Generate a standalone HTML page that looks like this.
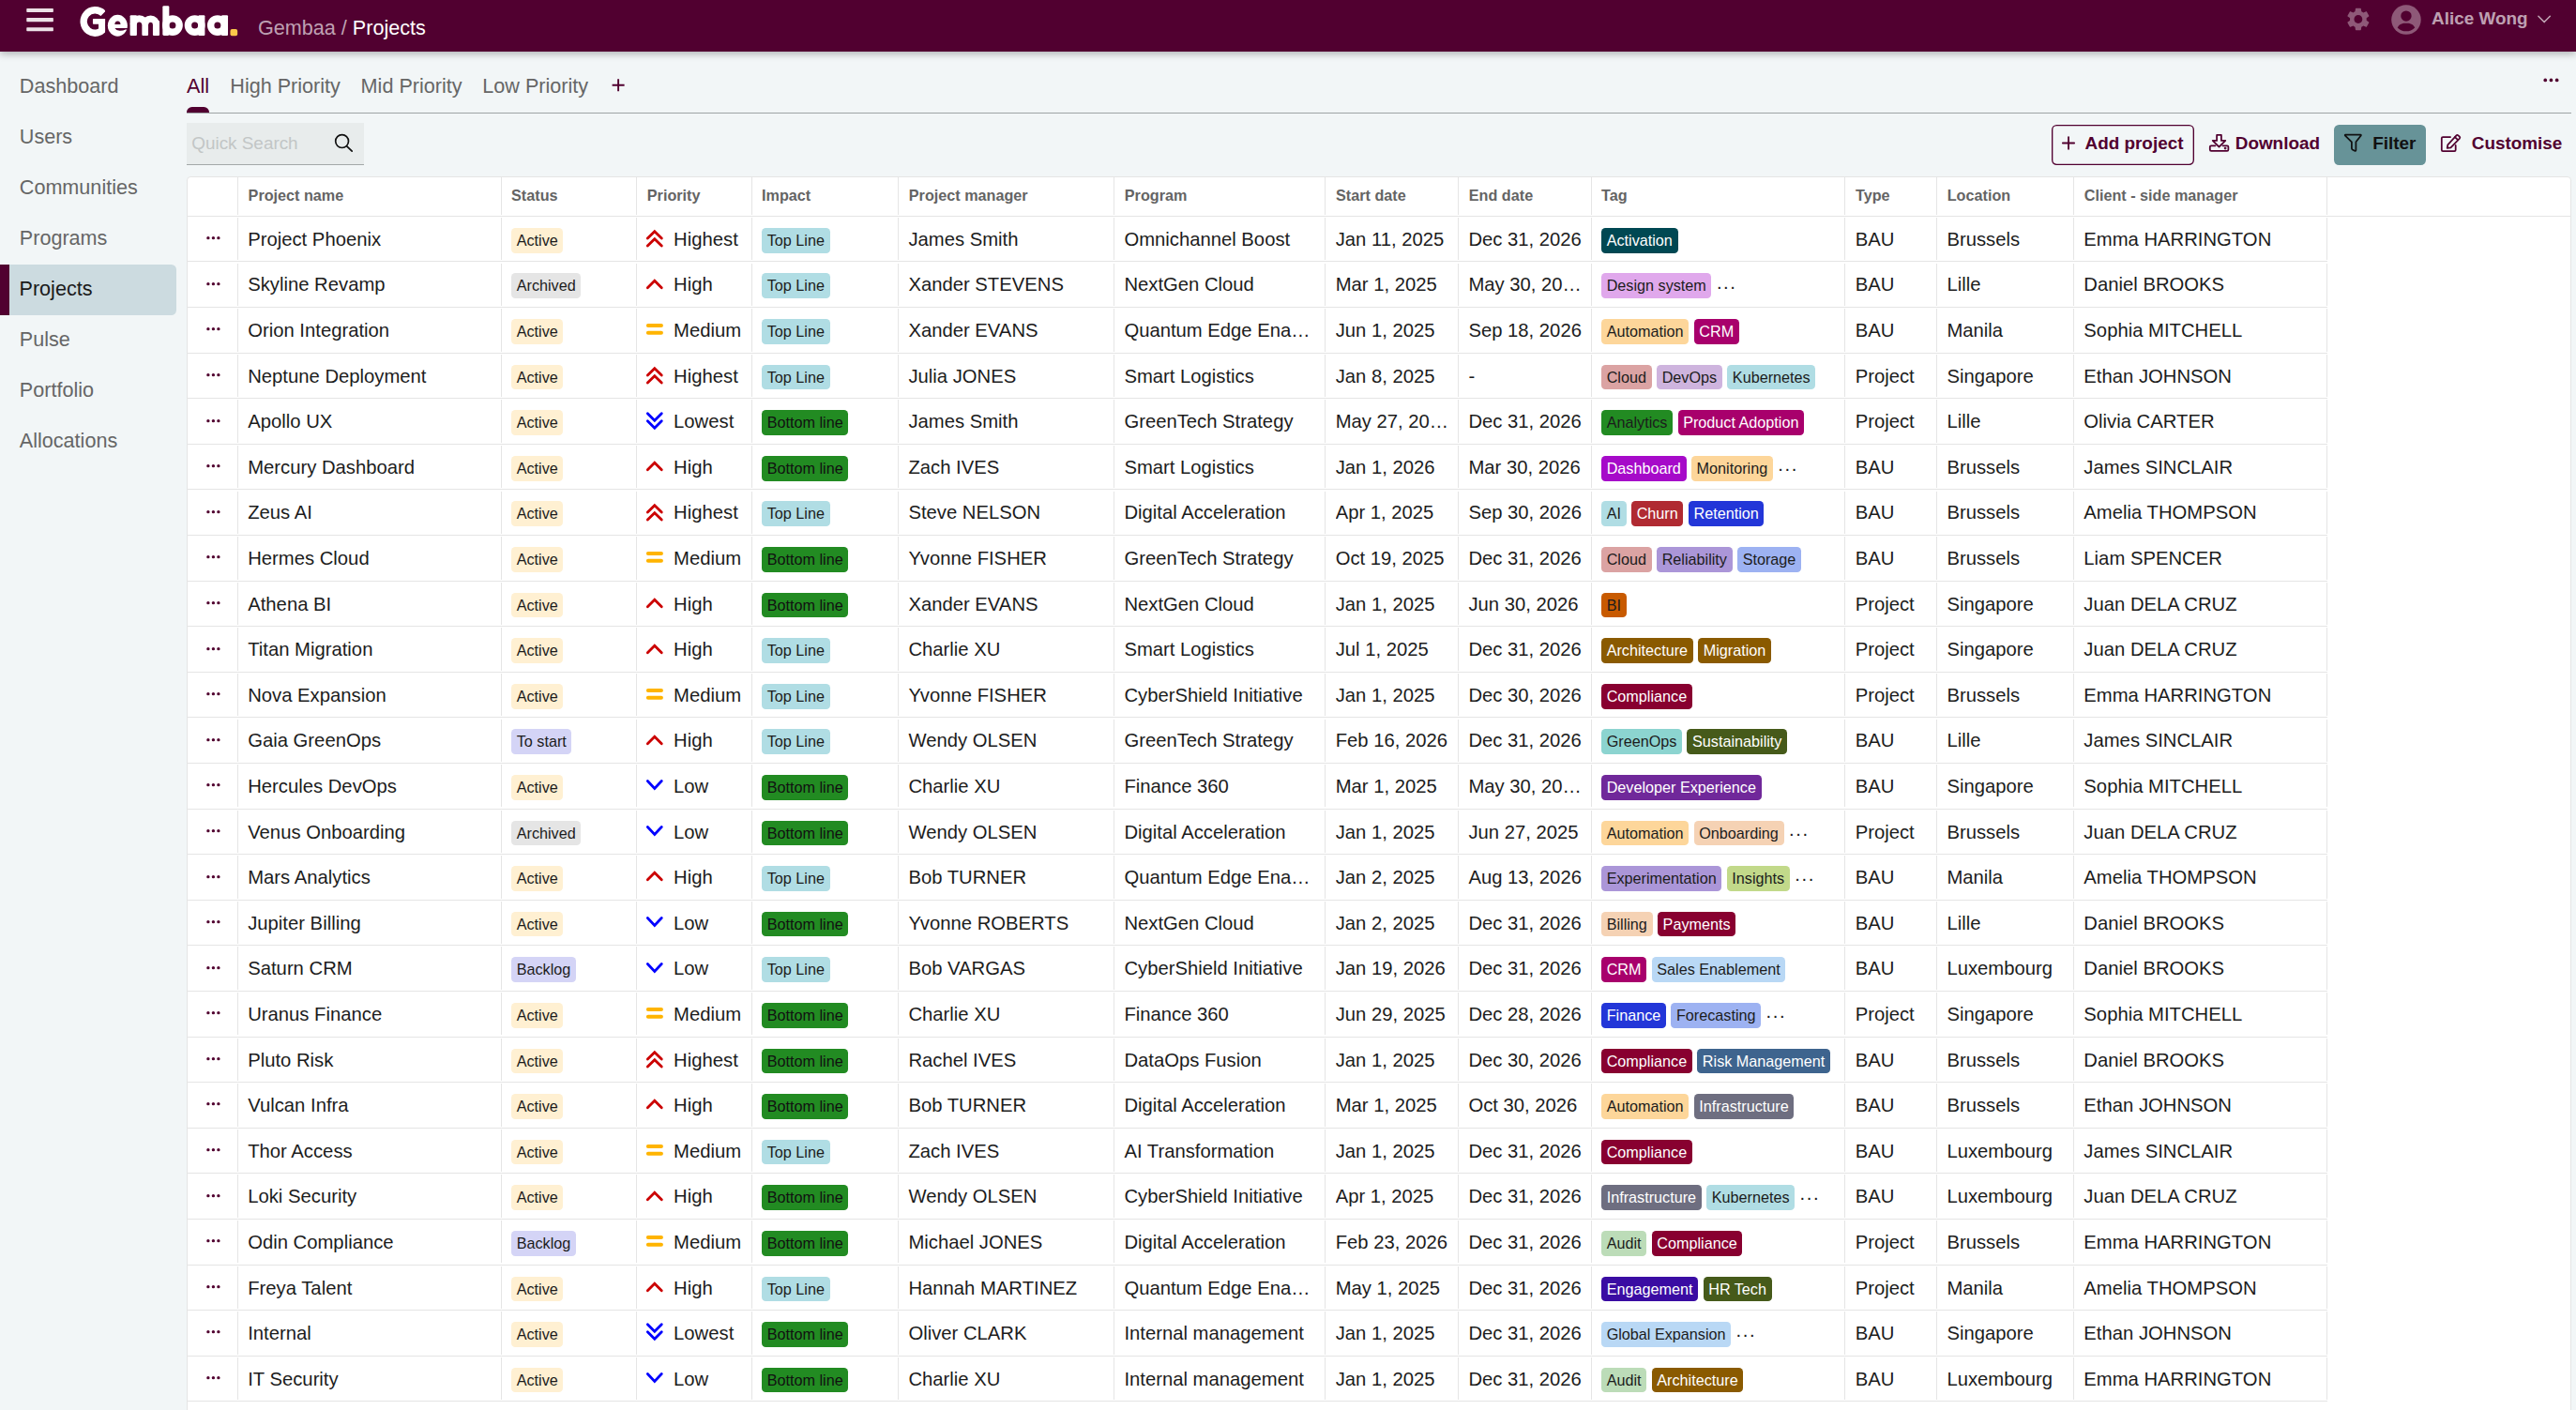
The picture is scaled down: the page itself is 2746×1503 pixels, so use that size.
<!DOCTYPE html>
<html lang="en"><head><meta charset="utf-8"><title>Gembaa / Projects</title>
<style>
html,body{margin:0;padding:0}
html{background:#f2f6f7;overflow:hidden}
body{zoom:1.35;font-family:"Liberation Sans",sans-serif;font-size:14px;color:#1c1c1c;width:2034.08px;height:1113.4px;position:relative;overflow:hidden;background:#f2f6f7}
*{box-sizing:border-box}
#hdr{position:absolute;left:0;top:0;width:2034.08px;height:40.74px;background:#510030;box-shadow:0 2px 6px rgba(0,0,0,.3);z-index:5}
#hdr svg.ov{position:absolute;left:0;top:0;width:2034.08px;height:40.74px}
#bc{position:absolute;left:203.7px;top:11.9px;font-size:16px;line-height:20px;color:#fff;white-space:nowrap}
#bc .m{color:rgba(255,255,255,.65)}
#usr{position:absolute;left:1920px;top:4.65px;font-size:14px;line-height:20px;font-weight:bold;color:rgba(255,255,255,.65);white-space:nowrap}
#side{position:absolute;left:0;top:48.7px;width:139.2px}
#side .it{height:40px;line-height:40px;padding-left:15.4px;font-size:16px;color:#666;position:relative;top:0}
#side .it span{position:relative;top:-0.5px}
#side .it.on{background:#ccdbe0;color:#1a1a1a;border-left:7.6px solid #510030;padding-left:7.8px;border-radius:0 4px 4px 0}
#main{position:absolute;left:0;top:0;width:2034.08px;height:1113.4px}
#tabs{position:absolute;left:147.4px;top:57.5px;height:20px;font-size:16px;line-height:20px;color:#666;white-space:nowrap}
#tabs span{position:absolute;top:0}
#tabs .on{color:#510030}
#tabline{position:absolute;left:147.4px;top:88.6px;width:1883px;height:1px;background:#9ea4a5}
#tabind{position:absolute;left:147.4px;top:84.4px;width:17.8px;height:4.4px;background:#510030;border-radius:4.2px 4.2px 0 0}
#srch{position:absolute;left:147.4px;top:97px;width:140px;height:33.7px;background:#e8ecec;border-bottom:1px solid #a3a8a8}
#srch span{position:absolute;left:3.9px;top:5.7px;line-height:20px;font-size:14px;color:#c2c6c6}
.btn{position:absolute;top:98.4px;height:32px;border-radius:4px;font-weight:bold;font-size:14px;line-height:32px;color:#510030;white-space:nowrap}
.btn span{position:absolute;top:-1.0px}
#b-add{left:1620px;width:112.4px;box-shadow:inset 0 0 0 1px #510030;border-radius:4px}
#b-fil{left:1843px;width:72.5px;background:#679398;color:#111}
#tbl{position:absolute;left:147.4px;top:139.3px;width:1882.9px;height:990px;background:#fff;border:1px solid #e5e5e5;border-radius:3px;overflow:hidden}
.hr{height:31px;border-bottom:1px solid #e5e5e5;display:flex;white-space:nowrap}
.hc{height:30px;line-height:28.3px;font-size:12px;font-weight:bold;color:#646464;padding-left:7.85px;position:relative;flex:none;overflow:hidden}
.r{height:36px;border-bottom:1px solid #e5e5e5;display:flex;white-space:nowrap;width:1689.85px}
.cl{height:35px;line-height:36.2px;font-size:15px;padding:0 8.3px 0 7px;position:relative;flex:none;overflow:hidden;white-space:nowrap}
.hc::after,.cl::after{content:"";position:absolute;right:0;top:0;bottom:0.6px;width:1px;background:#e5e5e5}
.cl::after{top:0.8px;bottom:0.6px}
.t{position:relative;left:0.6px;display:block;overflow:hidden;text-overflow:ellipsis;white-space:nowrap}
.bd{display:inline-block;font-size:12px;line-height:13.8px;padding:3px 4.2px;border-radius:3.2px;margin-right:4px;vertical-align:baseline;color:#1c1c1c}
.s-act{background:#fff0d2}.s-arc{background:#e5e5e5}.s-bkl{background:#d4d4f6}
.i-top{background:#b0dde4}.i-bot{background:#228b22;color:#111}
.more{letter-spacing:1.2px;position:relative;top:-2.2px}
.pi{width:14px;height:14px;position:absolute;left:7.5px;top:10.58px;overflow:visible}
.pt{position:absolute;left:28.8px;top:0}
.dots{position:absolute;left:15.1px;top:15.05px;width:13.333px;height:4px;fill:#510030;overflow:visible}
.c0{padding:0}
.c2,.c4,.c9{padding-left:7.3px}

.c0{width:40.0px}
.c1{width:208.333px}
.c2{width:106.667px}
.c3{width:91.111px}
.c4{width:115.556px}
.c5{width:170.37px}
.c6{width:166.852px}
.c7{width:105.0px}
.c8{width:105.185px}
.c9{width:200.185px}
.c10{width:72.407px}
.c11{width:108.148px}
.c12{width:200.0px}
</style></head><body>
<div id="hdr">
<svg class="ov" viewBox="0 0 2746 55">
<!-- hamburger -->
<g fill="#ece1e7"><rect x="27.9" y="8.95" width="28.6" height="4.05" rx=".7"/><rect x="27.9" y="19.1" width="28.6" height="4.05" rx=".7"/><rect x="27.9" y="29.2" width="28.6" height="4.05" rx=".7"/></g>
<!-- logo -->
<defs><clipPath id="gc"><rect x="80" y="0" width="31.7" height="55"/></clipPath><filter id="lb" x="-5%" y="-10%" width="110%" height="120%"><feGaussianBlur stdDeviation="0.3"/></filter></defs>
<g filter="url(#lb)">
<g fill="#fff" stroke="none">
<rect x="98.6" y="20" width="13.1" height="5.8" rx=".8"/>
<rect x="104.7" y="20" width="7" height="13.6" rx=".5"/>
<ellipse cx="125" cy="27.25" rx="10.5" ry="11.45"/>
<rect x="138.25" y="16.15" width="7.3" height="21.85" rx="1.1"/>
<rect x="151" y="22" width="6.7" height="16" rx="1.1"/>
<rect x="162.6" y="22" width="7.1" height="16" rx="1.1"/>
<rect x="173" y="6.2" width="7" height="31.8" rx="1.4"/>
<rect x="211.07" y="16.15" width="7" height="21.85" rx="1.1"/>
<rect x="235.7" y="16.15" width="7" height="21.85" rx="1.1"/>
</g>
<g fill="none" stroke="#fff">
<path clip-path="url(#gc)" d="M109.69 14.31A12.23 12.23 0 1 0 111.63 29.07" stroke-width="7.34"/>
<path d="M141.9 26A6.2 6.2 0 0 1 154.3 26M154.3 26A5.93 5.93 0 0 1 166.16 26" stroke-width="7.2"/>
<circle cx="183.6" cy="27.1" r="7.21" stroke-width="7.42"/>
<circle cx="207.3" cy="27.1" r="7.21" stroke-width="7.42"/>
<circle cx="231.55" cy="27.1" r="7.21" stroke-width="7.42"/>
</g>
<g fill="#510030">
<path d="M122 25.93A3.05 3.5 0 0 1 128.1 25.93Z"/>
<path d="M122 29.95H136.5V31.6H133.4Q130.5 33 127.1 32.8Q123.4 32.5 122 29.95Z"/>
</g>
</g>
<rect x="245.14" y="31" width="7.7" height="7.35" rx="2" fill="#fdc84a"/>
<!-- gear -->
<g transform="translate(2514.2 20.5) scale(1.23) translate(-12 -12)" fill="#8e5978"><path d="M19.14 12.94c.04-.3.06-.61.06-.94 0-.32-.02-.64-.07-.94l2.03-1.58c.18-.14.23-.41.12-.61l-1.92-3.32c-.12-.22-.37-.29-.59-.22l-2.39.96c-.5-.38-1.03-.7-1.62-.94l-.36-2.54c-.04-.24-.24-.41-.48-.41h-3.84c-.24 0-.43.17-.47.41l-.36 2.54c-.59.24-1.13.57-1.62.94l-2.39-.96c-.22-.08-.47 0-.59.22L2.74 8.87c-.12.21-.08.47.12.61l2.03 1.58c-.05.3-.09.63-.09.94s.02.64.07.94l-2.03 1.58c-.18.14-.23.41-.12.61l1.92 3.32c.12.22.37.29.59.22l2.39-.96c.5.38 1.03.7 1.62.94l.36 2.54c.05.24.24.41.48.41h3.84c.24 0 .44-.17.47-.41l.36-2.54c.59-.24 1.13-.56 1.62-.94l2.39.96c.22.08.47 0 .59-.22l1.92-3.32c.12-.22.07-.47-.12-.61l-2.01-1.58zM12 15.6c-1.98 0-3.6-1.62-3.6-3.6s1.62-3.6 3.6-3.6 3.6 1.62 3.6 3.6-1.62 3.6-3.6 3.6z"/></g>
<!-- avatar -->
<g transform="translate(2565.3 21.1)">
<circle r="15.75" fill="#8e5978"/>
<circle cx="0" cy="-4" r="5.7" fill="#510030"/>
<path d="M-9.3 8.3C-7 3.8 -3 3.6 0 3.6S7 3.8 9.3 8.3C6.5 11 3.5 12.2 0 12.2S-6.5 11 -9.3 8.3Z" fill="#510030"/>
</g>
<!-- chevron -->
<path d="M2706.3 17.2 2712.5 23.6 2718.7 17.2" fill="none" stroke="rgba(255,255,255,.65)" stroke-width="1.5" stroke-linecap="round" stroke-linejoin="round"/>
</svg>
<div id="bc"><span class="m">Gembaa / </span>Projects</div>
<div id="usr">Alice Wong</div>
</div>

<div id="side">
<div class="it"><span>Dashboard</span></div>
<div class="it"><span>Users</span></div>
<div class="it"><span>Communities</span></div>
<div class="it"><span>Programs</span></div>
<div class="it on"><span>Projects</span></div>
<div class="it"><span>Pulse</span></div>
<div class="it"><span>Portfolio</span></div>
<div class="it"><span>Allocations</span></div>
</div>

<div id="main">
<div id="tabs"><span class="on" style="left:0">All</span><span style="left:34.3px">High Priority</span><span style="left:137.5px">Mid Priority</span><span style="left:233.6px">Low Priority</span></div>
<div id="tabind"></div>
<div id="tabline"></div>
<div id="srch"><span>Quick Search</span></div>
<div class="btn" id="b-add"><span style="left:26.3px">Add project</span></div>
<div class="btn" id="b-dl" style="left:1744px"><span style="left:21px">Download</span></div>
<div class="btn" id="b-fil"><span style="left:30.5px">Filter</span></div>
<div class="btn" id="b-cus" style="left:1927px"><span style="left:24.7px">Customise</span></div>
<svg style="position:absolute;left:0;top:0;width:2034.08px;height:140px;pointer-events:none" viewBox="0 0 2746 189">
<!-- plus tab -->
<path d="M652.6 90.7H665.6M659.1 84.2V97.2" stroke="#510030" stroke-width="1.9" fill="none"/>
<!-- top right dots -->
<g fill="#510030"><circle cx="2713.25" cy="85.45" r="1.85"/><circle cx="2719.45" cy="85.45" r="1.85"/><circle cx="2725.65" cy="85.45" r="1.85"/></g>
<!-- add plus -->
<path d="M2198.9 152.45H2211.1M2205.03 146.05V158.85" stroke="#510030" stroke-width="1.85" stroke-linecap="round" fill="none"/>
<!-- download -->
<g transform="translate(2354.9 143)" fill="none" stroke="#510030" stroke-width="1.75" stroke-linejoin="round" stroke-linecap="round">
<path d="M8.2 0.9H13V6.9H17.4L10.6 13.6 3.8 6.9H8.2Z"/>
<path d="M6.6 12.3H2.2Q0.9 12.3 0.9 13.6V16.6Q0.9 17.9 2.2 17.9H19.2Q20.5 17.9 20.5 16.6V13.6Q20.5 12.3 19.2 12.3H14.6"/>
<circle cx="17.2" cy="15.1" r="0.5" fill="#510030"/>
</g>
<!-- filter -->
<g transform="translate(2498.9 142.7)" fill="none" stroke="#111" stroke-width="1.75" stroke-linejoin="round" stroke-linecap="round">
<path d="M1.4 0.9H17.4Q18.4 1 17.7 2L12.5 8.6V17.2Q12.4 18.5 11.2 18L8.8 16.7Q8 16.2 8 15.4V8.6L1.1 2Q0.4 1 1.4 0.9Z"/>
</g>
<!-- pencil square -->
<g transform="translate(2601.9 142.7)" fill="none" stroke="#510030" stroke-width="1.75" stroke-linejoin="round" stroke-linecap="round">
<path d="M10.2 3.3H2.2Q0.9 3.3 0.9 4.6V17.1Q0.9 18.4 2.2 18.4H14.5Q15.8 18.4 15.8 17.1V12.2"/>
<path d="M7.4 11.6 16.6 1.6Q17.5 0.7 18.5 1.6L20 3Q20.9 3.9 20 4.9L10.6 14.6 6.8 15.2Z"/>
<path d="M15 3.4 18.2 6.5"/>
</g>
<!-- search icon -->
<g fill="none" stroke="#111" stroke-width="1.7" stroke-linecap="round"><circle cx="364.6" cy="150.6" r="6.9"/><path d="M369.7 155.8 375.2 161.2"/></g>
</svg>

<div id="tbl">
<div class="hr">
<div class="hc c0"></div>
<div class="hc c1">Project name</div>
<div class="hc c2">Status</div>
<div class="hc c3">Priority</div>
<div class="hc c4">Impact</div>
<div class="hc c5">Project manager</div>
<div class="hc c6">Program</div>
<div class="hc c7">Start date</div>
<div class="hc c8">End date</div>
<div class="hc c9">Tag</div>
<div class="hc c10">Type</div>
<div class="hc c11">Location</div>
<div class="hc c12">Client - side manager</div>
</div>
<div class="r">
<div class="cl c0"><svg class="dots" viewBox="0 0 18 5.4"><circle cx="1.9" cy="2.7" r="1.68"/><circle cx="7.4" cy="2.7" r="1.68"/><circle cx="12.9" cy="2.7" r="1.68"/></svg></div>
<div class="cl c1"><span class="t">Project Phoenix</span></div>
<div class="cl c2"><span class="bd s-act">Active</span></div>
<div class="cl c3"><svg class="pi" viewBox="0 0 14 14"><g fill="none" stroke="#cb0000" stroke-width="2.1" stroke-linecap="round" stroke-linejoin="miter"><path d="M1 6.75 6.52 1.3 12.05 6.75"/><path d="M1 12.63 6.52 7.17 12.05 12.63"/></g></svg><span class="pt">Highest</span></div>
<div class="cl c4"><span class="bd i-top">Top Line</span></div>
<div class="cl c5"><span class="t">James Smith</span></div>
<div class="cl c6"><span class="t">Omnichannel Boost</span></div>
<div class="cl c7"><span class="t">Jan 11, 2025</span></div>
<div class="cl c8"><span class="t">Dec 31, 2026</span></div>
<div class="cl c9"><span class="bd" style="background:#004853;color:#fff">Activation</span></div>
<div class="cl c10"><span class="t">BAU</span></div>
<div class="cl c11"><span class="t">Brussels</span></div>
<div class="cl c12"><span class="t">Emma HARRINGTON</span></div>
</div>
<div class="r">
<div class="cl c0"><svg class="dots" viewBox="0 0 18 5.4"><circle cx="1.9" cy="2.7" r="1.68"/><circle cx="7.4" cy="2.7" r="1.68"/><circle cx="12.9" cy="2.7" r="1.68"/></svg></div>
<div class="cl c1"><span class="t">Skyline Revamp</span></div>
<div class="cl c2"><span class="bd s-arc">Archived</span></div>
<div class="cl c3"><svg class="pi" viewBox="0 0 14 14"><g fill="none" stroke="#cb0000" stroke-width="2.1" stroke-linecap="round" stroke-linejoin="miter"><path d="M1 9.42 6.52 3.96 12.05 9.42"/></g></svg><span class="pt">High</span></div>
<div class="cl c4"><span class="bd i-top">Top Line</span></div>
<div class="cl c5"><span class="t">Xander STEVENS</span></div>
<div class="cl c6"><span class="t">NextGen Cloud</span></div>
<div class="cl c7"><span class="t">Mar 1, 2025</span></div>
<div class="cl c8"><span class="t">May 30, 2026</span></div>
<div class="cl c9"><span class="bd" style="background:#e0a8ec;color:#1c1c1c">Design system</span><span class="more">...</span></div>
<div class="cl c10"><span class="t">BAU</span></div>
<div class="cl c11"><span class="t">Lille</span></div>
<div class="cl c12"><span class="t">Daniel BROOKS</span></div>
</div>
<div class="r">
<div class="cl c0"><svg class="dots" viewBox="0 0 18 5.4"><circle cx="1.9" cy="2.7" r="1.68"/><circle cx="7.4" cy="2.7" r="1.68"/><circle cx="12.9" cy="2.7" r="1.68"/></svg></div>
<div class="cl c1"><span class="t">Orion Integration</span></div>
<div class="cl c2"><span class="bd s-act">Active</span></div>
<div class="cl c3"><svg class="pi" viewBox="0 0 14 14"><g fill="none" stroke="#ffb400" stroke-width="3" stroke-linecap="round"><path d="M1.4 3.65H11.8"/><path d="M1.4 9.5H11.8"/></g></svg><span class="pt">Medium</span></div>
<div class="cl c4"><span class="bd i-top">Top Line</span></div>
<div class="cl c5"><span class="t">Xander EVANS</span></div>
<div class="cl c6"><span class="t">Quantum Edge Enablement</span></div>
<div class="cl c7"><span class="t">Jun 1, 2025</span></div>
<div class="cl c8"><span class="t">Sep 18, 2026</span></div>
<div class="cl c9"><span class="bd" style="background:#fdd69a;color:#1c1c1c">Automation</span><span class="bd" style="background:#a8006c;color:#fff">CRM</span></div>
<div class="cl c10"><span class="t">BAU</span></div>
<div class="cl c11"><span class="t">Manila</span></div>
<div class="cl c12"><span class="t">Sophia MITCHELL</span></div>
</div>
<div class="r">
<div class="cl c0"><svg class="dots" viewBox="0 0 18 5.4"><circle cx="1.9" cy="2.7" r="1.68"/><circle cx="7.4" cy="2.7" r="1.68"/><circle cx="12.9" cy="2.7" r="1.68"/></svg></div>
<div class="cl c1"><span class="t">Neptune Deployment</span></div>
<div class="cl c2"><span class="bd s-act">Active</span></div>
<div class="cl c3"><svg class="pi" viewBox="0 0 14 14"><g fill="none" stroke="#cb0000" stroke-width="2.1" stroke-linecap="round" stroke-linejoin="miter"><path d="M1 6.75 6.52 1.3 12.05 6.75"/><path d="M1 12.63 6.52 7.17 12.05 12.63"/></g></svg><span class="pt">Highest</span></div>
<div class="cl c4"><span class="bd i-top">Top Line</span></div>
<div class="cl c5"><span class="t">Julia JONES</span></div>
<div class="cl c6"><span class="t">Smart Logistics</span></div>
<div class="cl c7"><span class="t">Jan 8, 2025</span></div>
<div class="cl c8"><span class="t">-</span></div>
<div class="cl c9"><span class="bd" style="background:#dba3a3;color:#1c1c1c">Cloud</span><span class="bd" style="background:#ceb4de;color:#1c1c1c">DevOps</span><span class="bd" style="background:#b0dde4;color:#1c1c1c">Kubernetes</span></div>
<div class="cl c10"><span class="t">Project</span></div>
<div class="cl c11"><span class="t">Singapore</span></div>
<div class="cl c12"><span class="t">Ethan JOHNSON</span></div>
</div>
<div class="r">
<div class="cl c0"><svg class="dots" viewBox="0 0 18 5.4"><circle cx="1.9" cy="2.7" r="1.68"/><circle cx="7.4" cy="2.7" r="1.68"/><circle cx="12.9" cy="2.7" r="1.68"/></svg></div>
<div class="cl c1"><span class="t">Apollo UX</span></div>
<div class="cl c2"><span class="bd s-act">Active</span></div>
<div class="cl c3"><svg class="pi" viewBox="0 0 14 14"><g fill="none" stroke="#0000ff" stroke-width="2.1" stroke-linecap="round" stroke-linejoin="miter"><path d="M1 0.6 6.52 6.15 12.05 0.6"/><path d="M1 6.48 6.52 12.03 12.05 6.48"/></g></svg><span class="pt">Lowest</span></div>
<div class="cl c4"><span class="bd i-bot">Bottom line</span></div>
<div class="cl c5"><span class="t">James Smith</span></div>
<div class="cl c6"><span class="t">GreenTech Strategy</span></div>
<div class="cl c7"><span class="t">May 27, 2025</span></div>
<div class="cl c8"><span class="t">Dec 31, 2026</span></div>
<div class="cl c9"><span class="bd" style="background:#228b22;color:#1c1c1c">Analytics</span><span class="bd" style="background:#a8006c;color:#fff">Product Adoption</span></div>
<div class="cl c10"><span class="t">Project</span></div>
<div class="cl c11"><span class="t">Lille</span></div>
<div class="cl c12"><span class="t">Olivia CARTER</span></div>
</div>
<div class="r">
<div class="cl c0"><svg class="dots" viewBox="0 0 18 5.4"><circle cx="1.9" cy="2.7" r="1.68"/><circle cx="7.4" cy="2.7" r="1.68"/><circle cx="12.9" cy="2.7" r="1.68"/></svg></div>
<div class="cl c1"><span class="t">Mercury Dashboard</span></div>
<div class="cl c2"><span class="bd s-act">Active</span></div>
<div class="cl c3"><svg class="pi" viewBox="0 0 14 14"><g fill="none" stroke="#cb0000" stroke-width="2.1" stroke-linecap="round" stroke-linejoin="miter"><path d="M1 9.42 6.52 3.96 12.05 9.42"/></g></svg><span class="pt">High</span></div>
<div class="cl c4"><span class="bd i-bot">Bottom line</span></div>
<div class="cl c5"><span class="t">Zach IVES</span></div>
<div class="cl c6"><span class="t">Smart Logistics</span></div>
<div class="cl c7"><span class="t">Jan 1, 2026</span></div>
<div class="cl c8"><span class="t">Mar 30, 2026</span></div>
<div class="cl c9"><span class="bd" style="background:#a60ac9;color:#fff">Dashboard</span><span class="bd" style="background:#fdd69a;color:#1c1c1c">Monitoring</span><span class="more">...</span></div>
<div class="cl c10"><span class="t">BAU</span></div>
<div class="cl c11"><span class="t">Brussels</span></div>
<div class="cl c12"><span class="t">James SINCLAIR</span></div>
</div>
<div class="r">
<div class="cl c0"><svg class="dots" viewBox="0 0 18 5.4"><circle cx="1.9" cy="2.7" r="1.68"/><circle cx="7.4" cy="2.7" r="1.68"/><circle cx="12.9" cy="2.7" r="1.68"/></svg></div>
<div class="cl c1"><span class="t">Zeus AI</span></div>
<div class="cl c2"><span class="bd s-act">Active</span></div>
<div class="cl c3"><svg class="pi" viewBox="0 0 14 14"><g fill="none" stroke="#cb0000" stroke-width="2.1" stroke-linecap="round" stroke-linejoin="miter"><path d="M1 6.75 6.52 1.3 12.05 6.75"/><path d="M1 12.63 6.52 7.17 12.05 12.63"/></g></svg><span class="pt">Highest</span></div>
<div class="cl c4"><span class="bd i-top">Top Line</span></div>
<div class="cl c5"><span class="t">Steve NELSON</span></div>
<div class="cl c6"><span class="t">Digital Acceleration</span></div>
<div class="cl c7"><span class="t">Apr 1, 2025</span></div>
<div class="cl c8"><span class="t">Sep 30, 2026</span></div>
<div class="cl c9"><span class="bd" style="background:#b0dde4;color:#1c1c1c">AI</span><span class="bd" style="background:#b02a32;color:#fff">Churn</span><span class="bd" style="background:#2336d8;color:#fff">Retention</span></div>
<div class="cl c10"><span class="t">BAU</span></div>
<div class="cl c11"><span class="t">Brussels</span></div>
<div class="cl c12"><span class="t">Amelia THOMPSON</span></div>
</div>
<div class="r">
<div class="cl c0"><svg class="dots" viewBox="0 0 18 5.4"><circle cx="1.9" cy="2.7" r="1.68"/><circle cx="7.4" cy="2.7" r="1.68"/><circle cx="12.9" cy="2.7" r="1.68"/></svg></div>
<div class="cl c1"><span class="t">Hermes Cloud</span></div>
<div class="cl c2"><span class="bd s-act">Active</span></div>
<div class="cl c3"><svg class="pi" viewBox="0 0 14 14"><g fill="none" stroke="#ffb400" stroke-width="3" stroke-linecap="round"><path d="M1.4 3.65H11.8"/><path d="M1.4 9.5H11.8"/></g></svg><span class="pt">Medium</span></div>
<div class="cl c4"><span class="bd i-bot">Bottom line</span></div>
<div class="cl c5"><span class="t">Yvonne FISHER</span></div>
<div class="cl c6"><span class="t">GreenTech Strategy</span></div>
<div class="cl c7"><span class="t">Oct 19, 2025</span></div>
<div class="cl c8"><span class="t">Dec 31, 2026</span></div>
<div class="cl c9"><span class="bd" style="background:#dba3a3;color:#1c1c1c">Cloud</span><span class="bd" style="background:#ab96d8;color:#1c1c1c">Reliability</span><span class="bd" style="background:#9db2f2;color:#1c1c1c">Storage</span></div>
<div class="cl c10"><span class="t">BAU</span></div>
<div class="cl c11"><span class="t">Brussels</span></div>
<div class="cl c12"><span class="t">Liam SPENCER</span></div>
</div>
<div class="r">
<div class="cl c0"><svg class="dots" viewBox="0 0 18 5.4"><circle cx="1.9" cy="2.7" r="1.68"/><circle cx="7.4" cy="2.7" r="1.68"/><circle cx="12.9" cy="2.7" r="1.68"/></svg></div>
<div class="cl c1"><span class="t">Athena BI</span></div>
<div class="cl c2"><span class="bd s-act">Active</span></div>
<div class="cl c3"><svg class="pi" viewBox="0 0 14 14"><g fill="none" stroke="#cb0000" stroke-width="2.1" stroke-linecap="round" stroke-linejoin="miter"><path d="M1 9.42 6.52 3.96 12.05 9.42"/></g></svg><span class="pt">High</span></div>
<div class="cl c4"><span class="bd i-bot">Bottom line</span></div>
<div class="cl c5"><span class="t">Xander EVANS</span></div>
<div class="cl c6"><span class="t">NextGen Cloud</span></div>
<div class="cl c7"><span class="t">Jan 1, 2025</span></div>
<div class="cl c8"><span class="t">Jun 30, 2026</span></div>
<div class="cl c9"><span class="bd" style="background:#c85a00;color:#1c1c1c">BI</span></div>
<div class="cl c10"><span class="t">Project</span></div>
<div class="cl c11"><span class="t">Singapore</span></div>
<div class="cl c12"><span class="t">Juan DELA CRUZ</span></div>
</div>
<div class="r">
<div class="cl c0"><svg class="dots" viewBox="0 0 18 5.4"><circle cx="1.9" cy="2.7" r="1.68"/><circle cx="7.4" cy="2.7" r="1.68"/><circle cx="12.9" cy="2.7" r="1.68"/></svg></div>
<div class="cl c1"><span class="t">Titan Migration</span></div>
<div class="cl c2"><span class="bd s-act">Active</span></div>
<div class="cl c3"><svg class="pi" viewBox="0 0 14 14"><g fill="none" stroke="#cb0000" stroke-width="2.1" stroke-linecap="round" stroke-linejoin="miter"><path d="M1 9.42 6.52 3.96 12.05 9.42"/></g></svg><span class="pt">High</span></div>
<div class="cl c4"><span class="bd i-top">Top Line</span></div>
<div class="cl c5"><span class="t">Charlie XU</span></div>
<div class="cl c6"><span class="t">Smart Logistics</span></div>
<div class="cl c7"><span class="t">Jul 1, 2025</span></div>
<div class="cl c8"><span class="t">Dec 31, 2026</span></div>
<div class="cl c9"><span class="bd" style="background:#8a5a00;color:#fff">Architecture</span><span class="bd" style="background:#8a5a00;color:#fff">Migration</span></div>
<div class="cl c10"><span class="t">Project</span></div>
<div class="cl c11"><span class="t">Singapore</span></div>
<div class="cl c12"><span class="t">Juan DELA CRUZ</span></div>
</div>
<div class="r">
<div class="cl c0"><svg class="dots" viewBox="0 0 18 5.4"><circle cx="1.9" cy="2.7" r="1.68"/><circle cx="7.4" cy="2.7" r="1.68"/><circle cx="12.9" cy="2.7" r="1.68"/></svg></div>
<div class="cl c1"><span class="t">Nova Expansion</span></div>
<div class="cl c2"><span class="bd s-act">Active</span></div>
<div class="cl c3"><svg class="pi" viewBox="0 0 14 14"><g fill="none" stroke="#ffb400" stroke-width="3" stroke-linecap="round"><path d="M1.4 3.65H11.8"/><path d="M1.4 9.5H11.8"/></g></svg><span class="pt">Medium</span></div>
<div class="cl c4"><span class="bd i-top">Top Line</span></div>
<div class="cl c5"><span class="t">Yvonne FISHER</span></div>
<div class="cl c6"><span class="t">CyberShield Initiative</span></div>
<div class="cl c7"><span class="t">Jan 1, 2025</span></div>
<div class="cl c8"><span class="t">Dec 30, 2026</span></div>
<div class="cl c9"><span class="bd" style="background:#880030;color:#fff">Compliance</span></div>
<div class="cl c10"><span class="t">Project</span></div>
<div class="cl c11"><span class="t">Brussels</span></div>
<div class="cl c12"><span class="t">Emma HARRINGTON</span></div>
</div>
<div class="r">
<div class="cl c0"><svg class="dots" viewBox="0 0 18 5.4"><circle cx="1.9" cy="2.7" r="1.68"/><circle cx="7.4" cy="2.7" r="1.68"/><circle cx="12.9" cy="2.7" r="1.68"/></svg></div>
<div class="cl c1"><span class="t">Gaia GreenOps</span></div>
<div class="cl c2"><span class="bd s-bkl">To start</span></div>
<div class="cl c3"><svg class="pi" viewBox="0 0 14 14"><g fill="none" stroke="#cb0000" stroke-width="2.1" stroke-linecap="round" stroke-linejoin="miter"><path d="M1 9.42 6.52 3.96 12.05 9.42"/></g></svg><span class="pt">High</span></div>
<div class="cl c4"><span class="bd i-top">Top Line</span></div>
<div class="cl c5"><span class="t">Wendy OLSEN</span></div>
<div class="cl c6"><span class="t">GreenTech Strategy</span></div>
<div class="cl c7"><span class="t">Feb 16, 2026</span></div>
<div class="cl c8"><span class="t">Dec 31, 2026</span></div>
<div class="cl c9"><span class="bd" style="background:#8cd4d0;color:#1c1c1c">GreenOps</span><span class="bd" style="background:#465a1a;color:#fff">Sustainability</span></div>
<div class="cl c10"><span class="t">BAU</span></div>
<div class="cl c11"><span class="t">Lille</span></div>
<div class="cl c12"><span class="t">James SINCLAIR</span></div>
</div>
<div class="r">
<div class="cl c0"><svg class="dots" viewBox="0 0 18 5.4"><circle cx="1.9" cy="2.7" r="1.68"/><circle cx="7.4" cy="2.7" r="1.68"/><circle cx="12.9" cy="2.7" r="1.68"/></svg></div>
<div class="cl c1"><span class="t">Hercules DevOps</span></div>
<div class="cl c2"><span class="bd s-act">Active</span></div>
<div class="cl c3"><svg class="pi" viewBox="0 0 14 14"><g fill="none" stroke="#0000ff" stroke-width="2.1" stroke-linecap="round" stroke-linejoin="miter"><path d="M1 3.41 6.52 9.17 12.05 3.41"/></g></svg><span class="pt">Low</span></div>
<div class="cl c4"><span class="bd i-bot">Bottom line</span></div>
<div class="cl c5"><span class="t">Charlie XU</span></div>
<div class="cl c6"><span class="t">Finance 360</span></div>
<div class="cl c7"><span class="t">Mar 1, 2025</span></div>
<div class="cl c8"><span class="t">May 30, 2026</span></div>
<div class="cl c9"><span class="bd" style="background:#70289a;color:#fff">Developer Experience</span></div>
<div class="cl c10"><span class="t">BAU</span></div>
<div class="cl c11"><span class="t">Singapore</span></div>
<div class="cl c12"><span class="t">Sophia MITCHELL</span></div>
</div>
<div class="r">
<div class="cl c0"><svg class="dots" viewBox="0 0 18 5.4"><circle cx="1.9" cy="2.7" r="1.68"/><circle cx="7.4" cy="2.7" r="1.68"/><circle cx="12.9" cy="2.7" r="1.68"/></svg></div>
<div class="cl c1"><span class="t">Venus Onboarding</span></div>
<div class="cl c2"><span class="bd s-arc">Archived</span></div>
<div class="cl c3"><svg class="pi" viewBox="0 0 14 14"><g fill="none" stroke="#0000ff" stroke-width="2.1" stroke-linecap="round" stroke-linejoin="miter"><path d="M1 3.41 6.52 9.17 12.05 3.41"/></g></svg><span class="pt">Low</span></div>
<div class="cl c4"><span class="bd i-bot">Bottom line</span></div>
<div class="cl c5"><span class="t">Wendy OLSEN</span></div>
<div class="cl c6"><span class="t">Digital Acceleration</span></div>
<div class="cl c7"><span class="t">Jan 1, 2025</span></div>
<div class="cl c8"><span class="t">Jun 27, 2025</span></div>
<div class="cl c9"><span class="bd" style="background:#fdd69a;color:#1c1c1c">Automation</span><span class="bd" style="background:#f5d2b4;color:#1c1c1c">Onboarding</span><span class="more">...</span></div>
<div class="cl c10"><span class="t">Project</span></div>
<div class="cl c11"><span class="t">Brussels</span></div>
<div class="cl c12"><span class="t">Juan DELA CRUZ</span></div>
</div>
<div class="r">
<div class="cl c0"><svg class="dots" viewBox="0 0 18 5.4"><circle cx="1.9" cy="2.7" r="1.68"/><circle cx="7.4" cy="2.7" r="1.68"/><circle cx="12.9" cy="2.7" r="1.68"/></svg></div>
<div class="cl c1"><span class="t">Mars Analytics</span></div>
<div class="cl c2"><span class="bd s-act">Active</span></div>
<div class="cl c3"><svg class="pi" viewBox="0 0 14 14"><g fill="none" stroke="#cb0000" stroke-width="2.1" stroke-linecap="round" stroke-linejoin="miter"><path d="M1 9.42 6.52 3.96 12.05 9.42"/></g></svg><span class="pt">High</span></div>
<div class="cl c4"><span class="bd i-top">Top Line</span></div>
<div class="cl c5"><span class="t">Bob TURNER</span></div>
<div class="cl c6"><span class="t">Quantum Edge Enablement</span></div>
<div class="cl c7"><span class="t">Jan 2, 2025</span></div>
<div class="cl c8"><span class="t">Aug 13, 2026</span></div>
<div class="cl c9"><span class="bd" style="background:#ab96d8;color:#1c1c1c">Experimentation</span><span class="bd" style="background:#c2d98a;color:#1c1c1c">Insights</span><span class="more">...</span></div>
<div class="cl c10"><span class="t">BAU</span></div>
<div class="cl c11"><span class="t">Manila</span></div>
<div class="cl c12"><span class="t">Amelia THOMPSON</span></div>
</div>
<div class="r">
<div class="cl c0"><svg class="dots" viewBox="0 0 18 5.4"><circle cx="1.9" cy="2.7" r="1.68"/><circle cx="7.4" cy="2.7" r="1.68"/><circle cx="12.9" cy="2.7" r="1.68"/></svg></div>
<div class="cl c1"><span class="t">Jupiter Billing</span></div>
<div class="cl c2"><span class="bd s-act">Active</span></div>
<div class="cl c3"><svg class="pi" viewBox="0 0 14 14"><g fill="none" stroke="#0000ff" stroke-width="2.1" stroke-linecap="round" stroke-linejoin="miter"><path d="M1 3.41 6.52 9.17 12.05 3.41"/></g></svg><span class="pt">Low</span></div>
<div class="cl c4"><span class="bd i-bot">Bottom line</span></div>
<div class="cl c5"><span class="t">Yvonne ROBERTS</span></div>
<div class="cl c6"><span class="t">NextGen Cloud</span></div>
<div class="cl c7"><span class="t">Jan 2, 2025</span></div>
<div class="cl c8"><span class="t">Dec 31, 2026</span></div>
<div class="cl c9"><span class="bd" style="background:#f5d2b4;color:#1c1c1c">Billing</span><span class="bd" style="background:#880030;color:#fff">Payments</span></div>
<div class="cl c10"><span class="t">BAU</span></div>
<div class="cl c11"><span class="t">Lille</span></div>
<div class="cl c12"><span class="t">Daniel BROOKS</span></div>
</div>
<div class="r">
<div class="cl c0"><svg class="dots" viewBox="0 0 18 5.4"><circle cx="1.9" cy="2.7" r="1.68"/><circle cx="7.4" cy="2.7" r="1.68"/><circle cx="12.9" cy="2.7" r="1.68"/></svg></div>
<div class="cl c1"><span class="t">Saturn CRM</span></div>
<div class="cl c2"><span class="bd s-bkl">Backlog</span></div>
<div class="cl c3"><svg class="pi" viewBox="0 0 14 14"><g fill="none" stroke="#0000ff" stroke-width="2.1" stroke-linecap="round" stroke-linejoin="miter"><path d="M1 3.41 6.52 9.17 12.05 3.41"/></g></svg><span class="pt">Low</span></div>
<div class="cl c4"><span class="bd i-top">Top Line</span></div>
<div class="cl c5"><span class="t">Bob VARGAS</span></div>
<div class="cl c6"><span class="t">CyberShield Initiative</span></div>
<div class="cl c7"><span class="t">Jan 19, 2026</span></div>
<div class="cl c8"><span class="t">Dec 31, 2026</span></div>
<div class="cl c9"><span class="bd" style="background:#a8006c;color:#fff">CRM</span><span class="bd" style="background:#b9d8f5;color:#1c1c1c">Sales Enablement</span></div>
<div class="cl c10"><span class="t">BAU</span></div>
<div class="cl c11"><span class="t">Luxembourg</span></div>
<div class="cl c12"><span class="t">Daniel BROOKS</span></div>
</div>
<div class="r">
<div class="cl c0"><svg class="dots" viewBox="0 0 18 5.4"><circle cx="1.9" cy="2.7" r="1.68"/><circle cx="7.4" cy="2.7" r="1.68"/><circle cx="12.9" cy="2.7" r="1.68"/></svg></div>
<div class="cl c1"><span class="t">Uranus Finance</span></div>
<div class="cl c2"><span class="bd s-act">Active</span></div>
<div class="cl c3"><svg class="pi" viewBox="0 0 14 14"><g fill="none" stroke="#ffb400" stroke-width="3" stroke-linecap="round"><path d="M1.4 3.65H11.8"/><path d="M1.4 9.5H11.8"/></g></svg><span class="pt">Medium</span></div>
<div class="cl c4"><span class="bd i-bot">Bottom line</span></div>
<div class="cl c5"><span class="t">Charlie XU</span></div>
<div class="cl c6"><span class="t">Finance 360</span></div>
<div class="cl c7"><span class="t">Jun 29, 2025</span></div>
<div class="cl c8"><span class="t">Dec 28, 2026</span></div>
<div class="cl c9"><span class="bd" style="background:#2336d8;color:#fff">Finance</span><span class="bd" style="background:#9db2f2;color:#1c1c1c">Forecasting</span><span class="more">...</span></div>
<div class="cl c10"><span class="t">Project</span></div>
<div class="cl c11"><span class="t">Singapore</span></div>
<div class="cl c12"><span class="t">Sophia MITCHELL</span></div>
</div>
<div class="r">
<div class="cl c0"><svg class="dots" viewBox="0 0 18 5.4"><circle cx="1.9" cy="2.7" r="1.68"/><circle cx="7.4" cy="2.7" r="1.68"/><circle cx="12.9" cy="2.7" r="1.68"/></svg></div>
<div class="cl c1"><span class="t">Pluto Risk</span></div>
<div class="cl c2"><span class="bd s-act">Active</span></div>
<div class="cl c3"><svg class="pi" viewBox="0 0 14 14"><g fill="none" stroke="#cb0000" stroke-width="2.1" stroke-linecap="round" stroke-linejoin="miter"><path d="M1 6.75 6.52 1.3 12.05 6.75"/><path d="M1 12.63 6.52 7.17 12.05 12.63"/></g></svg><span class="pt">Highest</span></div>
<div class="cl c4"><span class="bd i-bot">Bottom line</span></div>
<div class="cl c5"><span class="t">Rachel IVES</span></div>
<div class="cl c6"><span class="t">DataOps Fusion</span></div>
<div class="cl c7"><span class="t">Jan 1, 2025</span></div>
<div class="cl c8"><span class="t">Dec 30, 2026</span></div>
<div class="cl c9"><span class="bd" style="background:#880030;color:#fff">Compliance</span><span class="bd" style="background:#3e648e;color:#fff">Risk Management</span></div>
<div class="cl c10"><span class="t">BAU</span></div>
<div class="cl c11"><span class="t">Brussels</span></div>
<div class="cl c12"><span class="t">Daniel BROOKS</span></div>
</div>
<div class="r">
<div class="cl c0"><svg class="dots" viewBox="0 0 18 5.4"><circle cx="1.9" cy="2.7" r="1.68"/><circle cx="7.4" cy="2.7" r="1.68"/><circle cx="12.9" cy="2.7" r="1.68"/></svg></div>
<div class="cl c1"><span class="t">Vulcan Infra</span></div>
<div class="cl c2"><span class="bd s-act">Active</span></div>
<div class="cl c3"><svg class="pi" viewBox="0 0 14 14"><g fill="none" stroke="#cb0000" stroke-width="2.1" stroke-linecap="round" stroke-linejoin="miter"><path d="M1 9.42 6.52 3.96 12.05 9.42"/></g></svg><span class="pt">High</span></div>
<div class="cl c4"><span class="bd i-bot">Bottom line</span></div>
<div class="cl c5"><span class="t">Bob TURNER</span></div>
<div class="cl c6"><span class="t">Digital Acceleration</span></div>
<div class="cl c7"><span class="t">Mar 1, 2025</span></div>
<div class="cl c8"><span class="t">Oct 30, 2026</span></div>
<div class="cl c9"><span class="bd" style="background:#fdd69a;color:#1c1c1c">Automation</span><span class="bd" style="background:#6e6e80;color:#fff">Infrastructure</span></div>
<div class="cl c10"><span class="t">BAU</span></div>
<div class="cl c11"><span class="t">Brussels</span></div>
<div class="cl c12"><span class="t">Ethan JOHNSON</span></div>
</div>
<div class="r">
<div class="cl c0"><svg class="dots" viewBox="0 0 18 5.4"><circle cx="1.9" cy="2.7" r="1.68"/><circle cx="7.4" cy="2.7" r="1.68"/><circle cx="12.9" cy="2.7" r="1.68"/></svg></div>
<div class="cl c1"><span class="t">Thor Access</span></div>
<div class="cl c2"><span class="bd s-act">Active</span></div>
<div class="cl c3"><svg class="pi" viewBox="0 0 14 14"><g fill="none" stroke="#ffb400" stroke-width="3" stroke-linecap="round"><path d="M1.4 3.65H11.8"/><path d="M1.4 9.5H11.8"/></g></svg><span class="pt">Medium</span></div>
<div class="cl c4"><span class="bd i-top">Top Line</span></div>
<div class="cl c5"><span class="t">Zach IVES</span></div>
<div class="cl c6"><span class="t">AI Transformation</span></div>
<div class="cl c7"><span class="t">Jan 1, 2025</span></div>
<div class="cl c8"><span class="t">Dec 31, 2026</span></div>
<div class="cl c9"><span class="bd" style="background:#880030;color:#fff">Compliance</span></div>
<div class="cl c10"><span class="t">BAU</span></div>
<div class="cl c11"><span class="t">Luxembourg</span></div>
<div class="cl c12"><span class="t">James SINCLAIR</span></div>
</div>
<div class="r">
<div class="cl c0"><svg class="dots" viewBox="0 0 18 5.4"><circle cx="1.9" cy="2.7" r="1.68"/><circle cx="7.4" cy="2.7" r="1.68"/><circle cx="12.9" cy="2.7" r="1.68"/></svg></div>
<div class="cl c1"><span class="t">Loki Security</span></div>
<div class="cl c2"><span class="bd s-act">Active</span></div>
<div class="cl c3"><svg class="pi" viewBox="0 0 14 14"><g fill="none" stroke="#cb0000" stroke-width="2.1" stroke-linecap="round" stroke-linejoin="miter"><path d="M1 9.42 6.52 3.96 12.05 9.42"/></g></svg><span class="pt">High</span></div>
<div class="cl c4"><span class="bd i-bot">Bottom line</span></div>
<div class="cl c5"><span class="t">Wendy OLSEN</span></div>
<div class="cl c6"><span class="t">CyberShield Initiative</span></div>
<div class="cl c7"><span class="t">Apr 1, 2025</span></div>
<div class="cl c8"><span class="t">Dec 31, 2026</span></div>
<div class="cl c9"><span class="bd" style="background:#6e6e80;color:#fff">Infrastructure</span><span class="bd" style="background:#b0dde4;color:#1c1c1c">Kubernetes</span><span class="more">...</span></div>
<div class="cl c10"><span class="t">BAU</span></div>
<div class="cl c11"><span class="t">Luxembourg</span></div>
<div class="cl c12"><span class="t">Juan DELA CRUZ</span></div>
</div>
<div class="r">
<div class="cl c0"><svg class="dots" viewBox="0 0 18 5.4"><circle cx="1.9" cy="2.7" r="1.68"/><circle cx="7.4" cy="2.7" r="1.68"/><circle cx="12.9" cy="2.7" r="1.68"/></svg></div>
<div class="cl c1"><span class="t">Odin Compliance</span></div>
<div class="cl c2"><span class="bd s-bkl">Backlog</span></div>
<div class="cl c3"><svg class="pi" viewBox="0 0 14 14"><g fill="none" stroke="#ffb400" stroke-width="3" stroke-linecap="round"><path d="M1.4 3.65H11.8"/><path d="M1.4 9.5H11.8"/></g></svg><span class="pt">Medium</span></div>
<div class="cl c4"><span class="bd i-bot">Bottom line</span></div>
<div class="cl c5"><span class="t">Michael JONES</span></div>
<div class="cl c6"><span class="t">Digital Acceleration</span></div>
<div class="cl c7"><span class="t">Feb 23, 2026</span></div>
<div class="cl c8"><span class="t">Dec 31, 2026</span></div>
<div class="cl c9"><span class="bd" style="background:#bcdcb8;color:#1c1c1c">Audit</span><span class="bd" style="background:#880030;color:#fff">Compliance</span></div>
<div class="cl c10"><span class="t">Project</span></div>
<div class="cl c11"><span class="t">Brussels</span></div>
<div class="cl c12"><span class="t">Emma HARRINGTON</span></div>
</div>
<div class="r">
<div class="cl c0"><svg class="dots" viewBox="0 0 18 5.4"><circle cx="1.9" cy="2.7" r="1.68"/><circle cx="7.4" cy="2.7" r="1.68"/><circle cx="12.9" cy="2.7" r="1.68"/></svg></div>
<div class="cl c1"><span class="t">Freya Talent</span></div>
<div class="cl c2"><span class="bd s-act">Active</span></div>
<div class="cl c3"><svg class="pi" viewBox="0 0 14 14"><g fill="none" stroke="#cb0000" stroke-width="2.1" stroke-linecap="round" stroke-linejoin="miter"><path d="M1 9.42 6.52 3.96 12.05 9.42"/></g></svg><span class="pt">High</span></div>
<div class="cl c4"><span class="bd i-top">Top Line</span></div>
<div class="cl c5"><span class="t">Hannah MARTINEZ</span></div>
<div class="cl c6"><span class="t">Quantum Edge Enablement</span></div>
<div class="cl c7"><span class="t">May 1, 2025</span></div>
<div class="cl c8"><span class="t">Dec 31, 2026</span></div>
<div class="cl c9"><span class="bd" style="background:#3a0ca3;color:#fff">Engagement</span><span class="bd" style="background:#465a1a;color:#fff">HR Tech</span></div>
<div class="cl c10"><span class="t">Project</span></div>
<div class="cl c11"><span class="t">Manila</span></div>
<div class="cl c12"><span class="t">Amelia THOMPSON</span></div>
</div>
<div class="r">
<div class="cl c0"><svg class="dots" viewBox="0 0 18 5.4"><circle cx="1.9" cy="2.7" r="1.68"/><circle cx="7.4" cy="2.7" r="1.68"/><circle cx="12.9" cy="2.7" r="1.68"/></svg></div>
<div class="cl c1"><span class="t">Internal</span></div>
<div class="cl c2"><span class="bd s-act">Active</span></div>
<div class="cl c3"><svg class="pi" viewBox="0 0 14 14"><g fill="none" stroke="#0000ff" stroke-width="2.1" stroke-linecap="round" stroke-linejoin="miter"><path d="M1 0.6 6.52 6.15 12.05 0.6"/><path d="M1 6.48 6.52 12.03 12.05 6.48"/></g></svg><span class="pt">Lowest</span></div>
<div class="cl c4"><span class="bd i-bot">Bottom line</span></div>
<div class="cl c5"><span class="t">Oliver CLARK</span></div>
<div class="cl c6"><span class="t">Internal management</span></div>
<div class="cl c7"><span class="t">Jan 1, 2025</span></div>
<div class="cl c8"><span class="t">Dec 31, 2026</span></div>
<div class="cl c9"><span class="bd" style="background:#b9d8f5;color:#1c1c1c">Global Expansion</span><span class="more">...</span></div>
<div class="cl c10"><span class="t">BAU</span></div>
<div class="cl c11"><span class="t">Singapore</span></div>
<div class="cl c12"><span class="t">Ethan JOHNSON</span></div>
</div>
<div class="r">
<div class="cl c0"><svg class="dots" viewBox="0 0 18 5.4"><circle cx="1.9" cy="2.7" r="1.68"/><circle cx="7.4" cy="2.7" r="1.68"/><circle cx="12.9" cy="2.7" r="1.68"/></svg></div>
<div class="cl c1"><span class="t">IT Security</span></div>
<div class="cl c2"><span class="bd s-act">Active</span></div>
<div class="cl c3"><svg class="pi" viewBox="0 0 14 14"><g fill="none" stroke="#0000ff" stroke-width="2.1" stroke-linecap="round" stroke-linejoin="miter"><path d="M1 3.41 6.52 9.17 12.05 3.41"/></g></svg><span class="pt">Low</span></div>
<div class="cl c4"><span class="bd i-bot">Bottom line</span></div>
<div class="cl c5"><span class="t">Charlie XU</span></div>
<div class="cl c6"><span class="t">Internal management</span></div>
<div class="cl c7"><span class="t">Jan 1, 2025</span></div>
<div class="cl c8"><span class="t">Dec 31, 2026</span></div>
<div class="cl c9"><span class="bd" style="background:#bcdcb8;color:#1c1c1c">Audit</span><span class="bd" style="background:#8a5a00;color:#fff">Architecture</span></div>
<div class="cl c10"><span class="t">BAU</span></div>
<div class="cl c11"><span class="t">Luxembourg</span></div>
<div class="cl c12"><span class="t">Emma HARRINGTON</span></div>
</div>
</div>
</div>
</body></html>
